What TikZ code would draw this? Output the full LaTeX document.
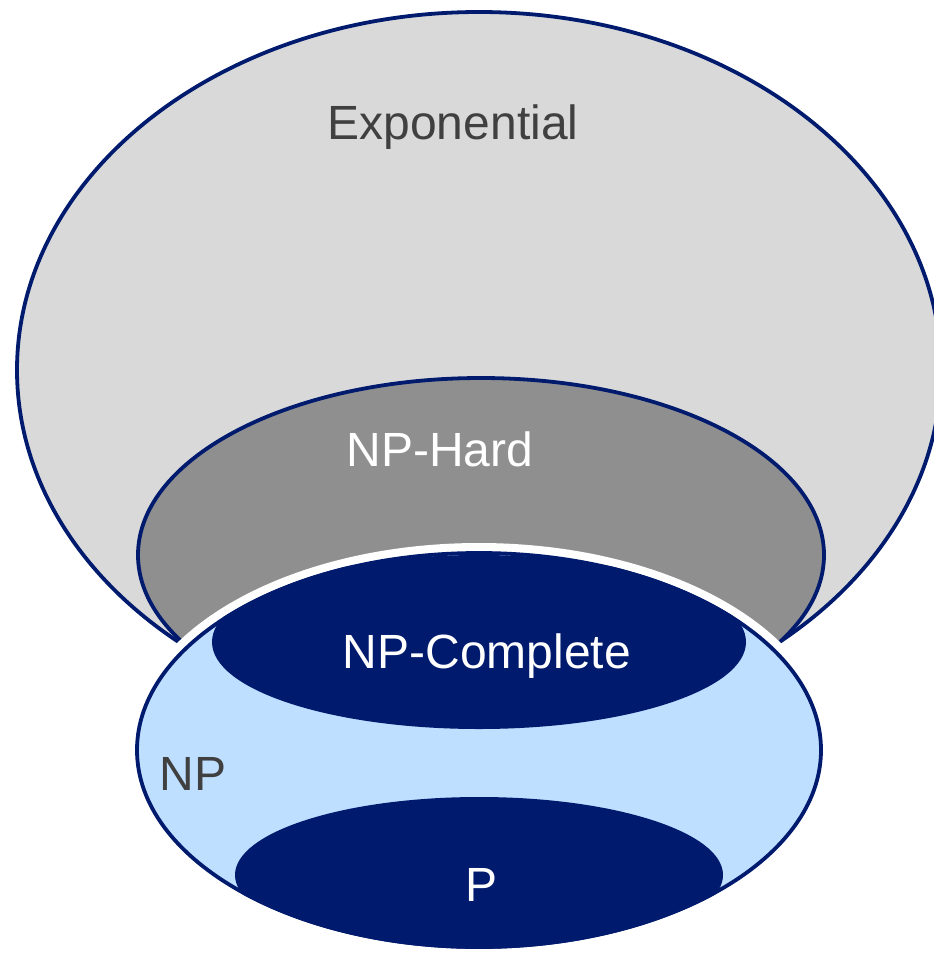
\documentclass[tikz,border=0pt]{standalone}
\usepackage{fontspec}
\setmainfont{Liberation Sans}
\definecolor{navy}{RGB}{0,26,110}
\definecolor{expgray}{RGB}{217,217,217}
\definecolor{hardgray}{RGB}{143,143,143}
\definecolor{npblue}{RGB}{190,223,255}
\definecolor{txtgray}{RGB}{64,64,64}
\tikzset{
  setline/.style={draw=navy, line width=3.8pt},
  lbl/.style={inner sep=0pt, anchor=base, font=\fontsize{48}{57}\selectfont},
}
\begin{document}
\begin{tikzpicture}[x=1pt,y=-1pt]
\useasboundingbox (0,0) rectangle (934,953);
\clip (0,0) rectangle (934,953);
% Exponential
\path[setline, fill=expgray] (479,370) ellipse [x radius=462, y radius=358];
% NP-Hard
\path[setline, fill=hardgray] (481,555) ellipse [x radius=343, y radius=177];
% NP with white halo
\path[draw=white, line width=20pt] (479,750) ellipse [x radius=342, y radius=197];
\path[setline, fill=npblue] (479,750) ellipse [x radius=342, y radius=197];
\begin{scope}
  \clip (479,750) ellipse [x radius=343.9, y radius=198.9];
  \fill[navy] (479,642) ellipse [x radius=267, y radius=87];
  \fill[navy] (479,875) ellipse [x radius=244, y radius=78];
\end{scope}
% labels
\node[lbl, text=txtgray] (exp) at (453,139) {Exponential};
\node[lbl, text=white] (hard) at (440,466) {NP-Hard};
\node[lbl, text=white] (npc) at (487,668) {NP-Complete};
\node[lbl, text=txtgray] (np) at (193,790) {NP};
\node[lbl, text=white] (p) at (482,901) {P};
\end{tikzpicture}
\end{document}
